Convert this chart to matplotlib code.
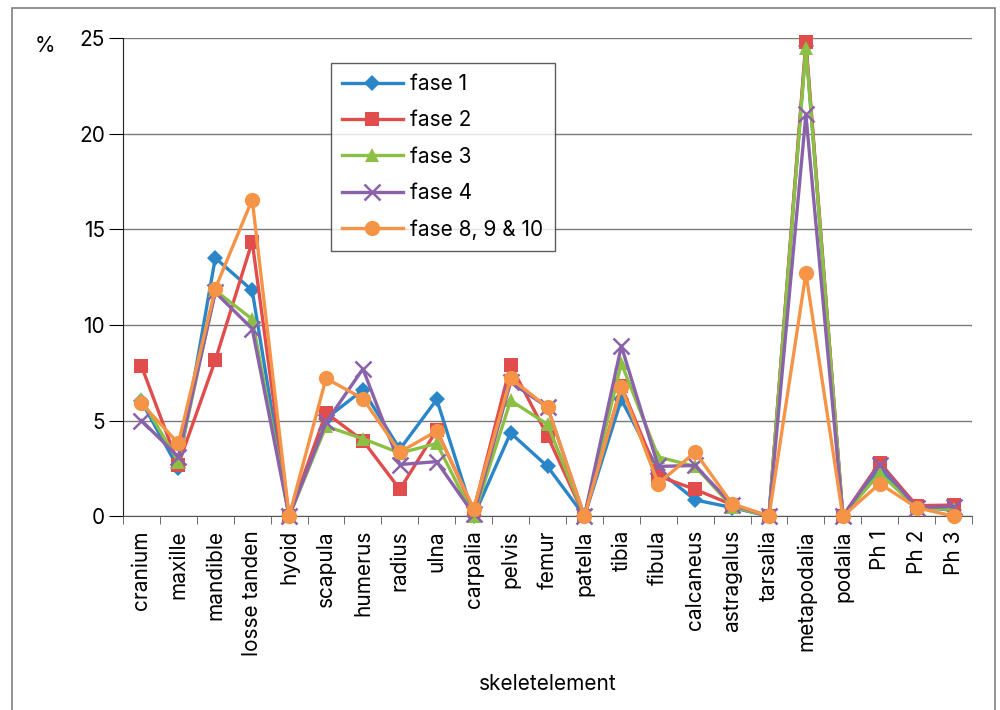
import matplotlib
matplotlib.use("Agg")
import matplotlib.pyplot as plt
from matplotlib.patches import Rectangle
from matplotlib.ticker import MultipleLocator, FixedLocator

plt.rcParams['font.family'] = ['Inter', 'DejaVu Sans']

categories = ['cranium', 'maxille', 'mandible', 'losse tanden', 'hyoid', 'scapula',
              'humerus', 'radius', 'ulna', 'carpalia', 'pelvis', 'femur', 'patella',
              'tibia', 'fibula', 'calcaneus', 'astragalus', 'tarsalia', 'metapodalia',
              'podalia', 'Ph 1', 'Ph 2', 'Ph 3']

fase1 = [6.0, 2.5, 13.5, 11.8, 0, 5.1, 6.6, 3.5, 6.1, 0, 4.35, 2.6, 0, 6.1, 2.4, 0.85,
         0.45, 0, 24.6, 0, 2.4, 0.5, 0.3]
fase2 = [7.85, 2.7, 8.15, 14.35, 0, 5.4, 3.95, 1.4, 4.5, 0.3, 7.9, 4.2, 0, 6.8, 2.1, 1.4,
         0.6, 0, 24.8, 0, 2.8, 0.55, 0.58]
fase3 = [6.1, 2.85, 11.8, 10.3, 0, 4.7, 4.05, 3.3, 3.8, 0, 6.05, 4.8, 0, 8.0, 3.1, 2.6,
         0.5, 0, 24.5, 0, 2.25, 0.45, 0.35]
fase4 = [5.0, 3.1, 11.7, 9.8, 0, 4.9, 7.7, 2.7, 2.85, 0.1, 7.0, 5.7, 0, 8.9, 2.6, 2.65,
         0.6, 0, 21.0, 0, 2.7, 0.45, 0.5]
fase8910 = [5.9, 3.8, 11.9, 16.55, 0, 7.2, 6.15, 3.35, 4.45, 0.4, 7.2, 5.7, 0, 6.75, 1.7,
            3.35, 0.65, 0, 12.7, 0, 1.7, 0.45, 0.0]

series_names = ['fase 1', 'fase 2', 'fase 3', 'fase 4', 'fase 8, 9 & 10']
series = [fase1, fase2, fase3, fase4, fase8910]
colors = ['#2a86c8', '#e04d4c', '#8cc044', '#8a62aa', '#f59446']
markers = ['D', 's', '^', 'x', 'o']
msizes = [8, 10, 10, 12, 11]

fig = plt.figure(figsize=(10, 7.1), dpi=100)
ax = fig.add_axes([0.123, 0.273, 0.849, 0.6735])

x = list(range(len(categories)))
for name, vals, c, m, ms in zip(series_names, series, colors, markers, msizes):
    kw = dict(markeredgewidth=1.8) if m == 'x' else dict(markeredgewidth=0)
    ax.plot(x, vals, color=c, marker=m, markersize=ms, linewidth=2.4, label=name,
            markerfacecolor=c, markeredgecolor=c, clip_on=False, zorder=3, **kw)

ax.set_xlim(-0.5, len(categories) - 0.5)
ax.set_ylim(0, 25)
ax.yaxis.set_major_locator(MultipleLocator(5))
ax.grid(axis='y', color='#7a7a7a', linewidth=1.0)
ax.set_axisbelow(True)

ax.set_xticks(x)
ax.set_xticklabels(categories, rotation=90, fontsize=15)
ax.xaxis.set_minor_locator(FixedLocator([i - 0.5 for i in range(len(categories) + 1)]))
ax.tick_params(axis='x', which='major', length=0, pad=10)
ax.tick_params(axis='x', which='minor', length=6, direction='out', color='#555555')
ax.tick_params(axis='y', labelsize=15, length=10, direction='out', pad=3)

for s in ['top', 'right']:
    ax.spines[s].set_visible(False)
ax.spines['left'].set_color('#222222')
ax.spines['bottom'].set_color('#555555')

ax.set_xlabel('skeletelement', fontsize=15, labelpad=13)
fig.text(0.045, 0.935, '%', fontsize=15, ha='center', va='center')

leg = ax.legend(loc='upper left', bbox_to_anchor=(0.2325, 0.97), frameon=True,
                fancybox=False, edgecolor='#333333', fontsize=15, borderpad=0.55,
                labelspacing=0.78, handlelength=2.9, handletextpad=0.35)
leg.get_frame().set_linewidth(1.0)

fig.patches.append(Rectangle((0.012, -0.05), 0.983, 1.05 - 8 / 710, transform=fig.transFigure,
                             fill=False, edgecolor='#808080', linewidth=1.2))

fig.savefig('out.png', dpi=100)
